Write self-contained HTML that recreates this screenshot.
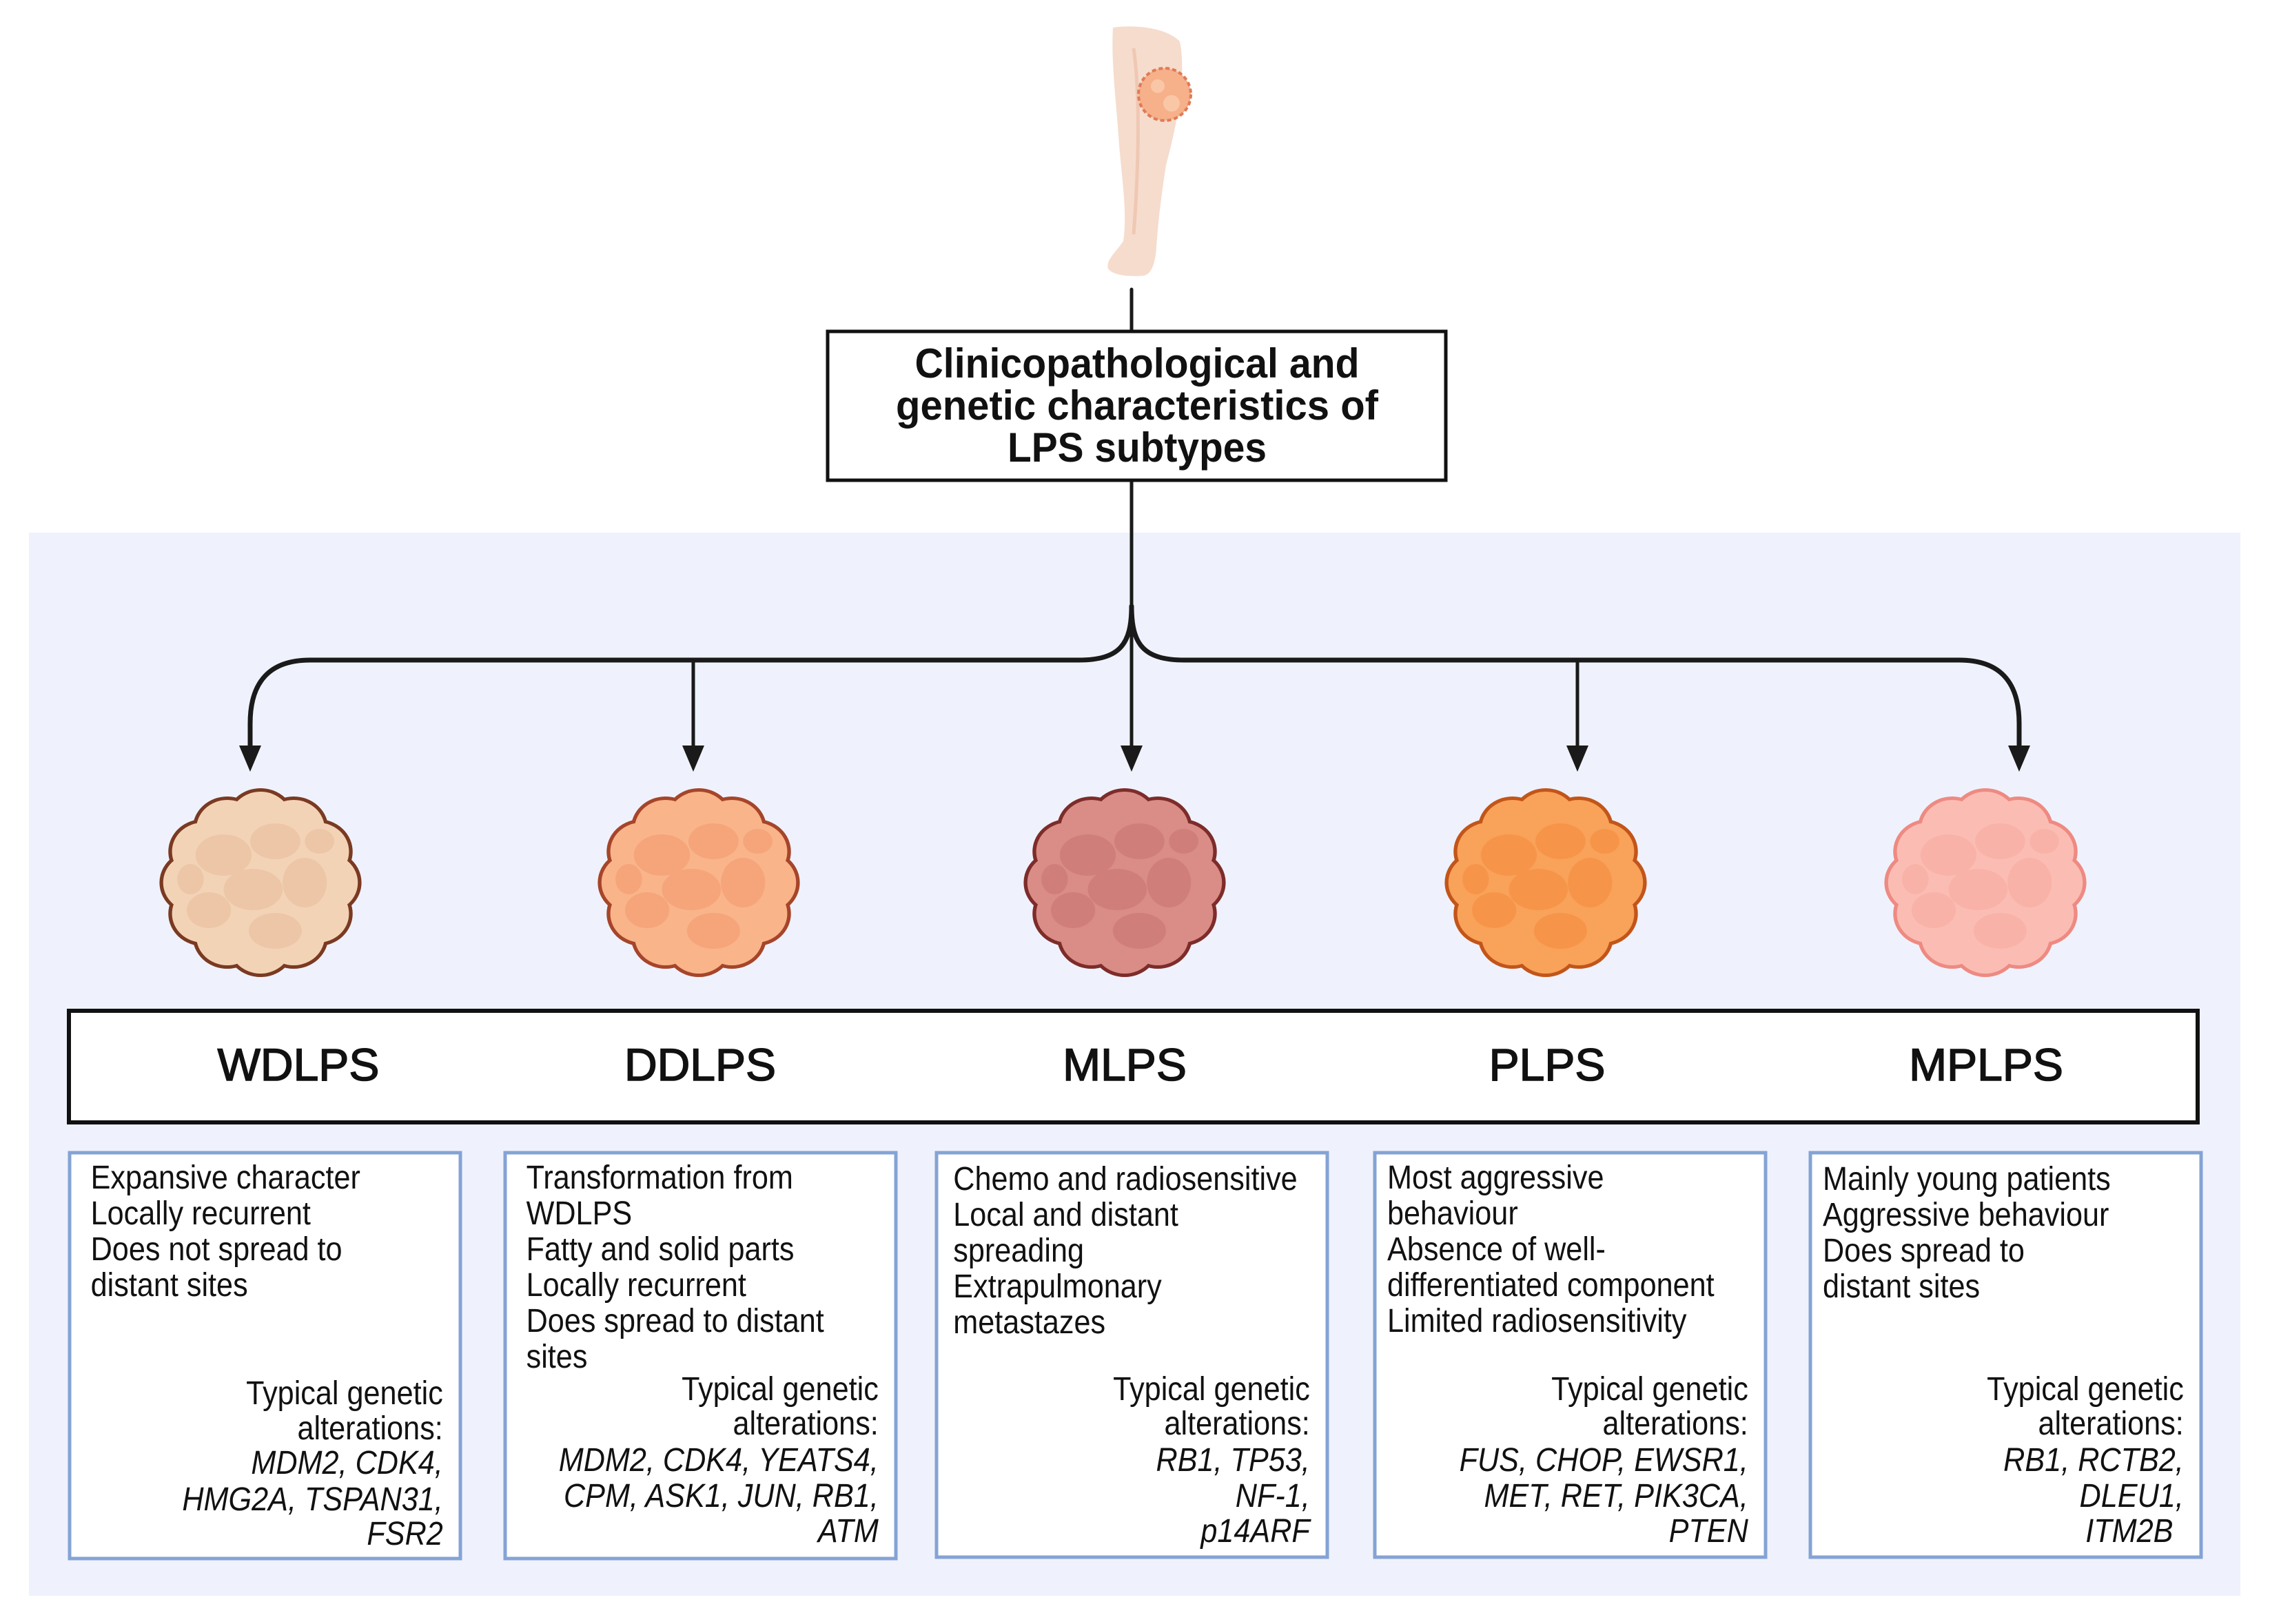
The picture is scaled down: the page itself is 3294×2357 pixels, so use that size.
<!DOCTYPE html>
<html><head><meta charset="utf-8"><style>html,body{margin:0;padding:0;background:#fff}svg{display:block}</style></head>
<body>
<svg width="3294" height="2357" viewBox="0 0 3294 2357" xmlns="http://www.w3.org/2000/svg" font-family="'Liberation Sans', sans-serif">
<defs>
<g id="b">
<circle cx="0" cy="0" r="108"/>
<circle cx="90" cy="0" r="42"/><circle cx="78" cy="45" r="42"/><circle cx="45" cy="78" r="42"/>
<circle cx="0" cy="90" r="42"/><circle cx="-45" cy="78" r="42"/><circle cx="-78" cy="45" r="42"/>
<circle cx="-90" cy="0" r="42"/><circle cx="-78" cy="-45" r="42"/><circle cx="-45" cy="-78" r="42"/>
<circle cx="0" cy="-90" r="42"/><circle cx="45" cy="-78" r="42"/><circle cx="78" cy="-45" r="42"/>
</g>
<g id="t">
<ellipse cx="-50" cy="-40" rx="38" ry="30"/><ellipse cx="20" cy="-60" rx="34" ry="26"/>
<ellipse cx="60" cy="0" rx="30" ry="36"/><ellipse cx="-10" cy="10" rx="40" ry="30"/>
<ellipse cx="-70" cy="40" rx="30" ry="26"/><ellipse cx="20" cy="70" rx="36" ry="26"/>
<ellipse cx="80" cy="-60" rx="20" ry="18"/><ellipse cx="-95" cy="-5" rx="18" ry="22"/>
</g>
</defs>
<rect x="42" y="773" width="3209" height="1543" fill="#eff2fc"/>

<!-- leg -->
<path d="M1615 40 C1640 36 1690 38 1712 60 C1722 110 1708 180 1692 240 C1684 290 1680 330 1678 360 C1676 385 1670 398 1660 400 C1640 402 1615 400 1608 390 C1604 378 1620 365 1630 350 C1636 310 1628 260 1624 210 C1620 150 1612 90 1615 40 Z" fill="#f6dccd"/>
<path d="M1645 70 C1655 140 1652 250 1645 340" stroke="#efc8b4" stroke-width="5" fill="none"/>
<circle cx="1690" cy="137" r="38" fill="#f6b08a" stroke="#e07a55" stroke-width="4" stroke-dasharray="6 4"/>
<circle cx="1680" cy="125" r="10" fill="#f9c7a6"/><circle cx="1700" cy="150" r="12" fill="#f9c7a6"/>

<!-- connectors -->
<g stroke="#1a1a1a" fill="none" stroke-linecap="round">
<line x1="1642" y1="420" x2="1642" y2="480" stroke-width="5"/>
<line x1="1642" y1="699" x2="1642" y2="1090" stroke-width="5"/>
<path d="M1642 880 C1642 935 1625 958 1565 958 H450 Q363 958 363 1050 V1090" stroke-width="7"/>
<path d="M1642 880 C1642 935 1659 958 1719 958 H2843 Q2930 958 2930 1050 V1090" stroke-width="7"/>
<line x1="1006" y1="962" x2="1006" y2="1090" stroke-width="5"/>
<line x1="2289" y1="962" x2="2289" y2="1090" stroke-width="5"/>
</g>
<g fill="#1a1a1a">
<polygon points="347,1082 379,1082 363,1120"/>
<polygon points="990,1082 1022,1082 1006,1120"/>
<polygon points="1626,1082 1658,1082 1642,1120"/>
<polygon points="2273,1082 2305,1082 2289,1120"/>
<polygon points="2914,1082 2946,1082 2930,1120"/>
</g>

<!-- title box -->
<rect x="1201" y="481" width="897" height="216" fill="#fff" stroke="#111" stroke-width="5"/>
<g font-weight="bold" font-size="60" text-anchor="middle" fill="#111">
<text x="1650" y="548" textLength="645" lengthAdjust="spacingAndGlyphs">Clinicopathological and</text>
<text x="1650" y="609" textLength="700" lengthAdjust="spacingAndGlyphs">genetic characteristics of</text>
<text x="1650" y="670" textLength="376" lengthAdjust="spacingAndGlyphs">LPS subtypes</text>
</g>

<!-- blobs -->
<g transform="translate(378,1281) scale(1.07,1)"><use href="#b" fill="#7a3a22" stroke="#7a3a22" stroke-width="10"/><use href="#b" fill="#f3d3b6"/><use href="#t" fill="#e8bf9c" opacity="0.6"/></g>
<g transform="translate(1014,1281) scale(1.07,1)"><use href="#b" fill="#a6452a" stroke="#a6452a" stroke-width="10"/><use href="#b" fill="#f9b48a"/><use href="#t" fill="#f2976a" opacity="0.5"/></g>
<g transform="translate(1632,1281) scale(1.07,1)"><use href="#b" fill="#7d2c2a" stroke="#7d2c2a" stroke-width="10"/><use href="#b" fill="#da8c87"/><use href="#t" fill="#c8716d" opacity="0.5"/></g>
<g transform="translate(2243,1281) scale(1.07,1)"><use href="#b" fill="#c2551a" stroke="#c2551a" stroke-width="10"/><use href="#b" fill="#f9a259"/><use href="#t" fill="#f58a3a" opacity="0.5"/></g>
<g transform="translate(2881,1281) scale(1.07,1)"><use href="#b" fill="#ee8a82" stroke="#ee8a82" stroke-width="10"/><use href="#b" fill="#fbbdb3"/><use href="#t" fill="#f7a89e" opacity="0.5"/></g>

<!-- names box -->
<rect x="100" y="1467" width="3089" height="162" fill="#fff" stroke="#111" stroke-width="6"/>
<g font-size="66" text-anchor="middle" fill="#111" stroke="#111" stroke-width="1.6">
<text x="433" y="1568">WDLPS</text>
<text x="1016" y="1568">DDLPS</text>
<text x="1632" y="1568">MLPS</text>
<text x="2245" y="1568">PLPS</text>
<text x="2882" y="1568">MPLPS</text>
</g>

<!-- small boxes -->
<g fill="#fff" stroke="#84a3d6" stroke-width="5">
<rect x="101" y="1673" width="567" height="589"/>
<rect x="733" y="1673" width="567" height="589"/>
<rect x="1359" y="1673" width="567" height="587"/>
<rect x="1995" y="1673" width="567" height="587"/>
<rect x="2627" y="1673" width="567" height="587"/>
</g>

<g font-size="48" fill="#111">
<g transform="translate(101,0) scale(0.9,1)">
<text x="34" y="1725">Expansive character</text>
<text x="34" y="1777">Locally recurrent</text>
<text x="34" y="1829">Does not spread to</text>
<text x="34" y="1881">distant sites</text>
<g text-anchor="end">
<text x="602" y="2038">Typical genetic</text>
<text x="602" y="2089">alterations:</text>
<text x="602" y="2139" font-style="italic">MDM2, CDK4,</text>
<text x="602" y="2192" font-style="italic">HMG2A, TSPAN31,</text>
<text x="602" y="2242" font-style="italic">FSR2</text>
</g></g>
<g transform="translate(733,0) scale(0.9,1)">
<text x="34" y="1725">Transformation from</text>
<text x="34" y="1777">WDLPS</text>
<text x="34" y="1829">Fatty and solid parts</text>
<text x="34" y="1881">Locally recurrent</text>
<text x="34" y="1933">Does spread to distant</text>
<text x="34" y="1985">sites</text>
<g text-anchor="end">
<text x="602" y="2032">Typical genetic</text>
<text x="602" y="2082">alterations:</text>
<text x="602" y="2135" font-style="italic">MDM2, CDK4, YEATS4,</text>
<text x="602" y="2187" font-style="italic">CPM, ASK1, JUN, RB1,</text>
<text x="602" y="2238" font-style="italic">ATM</text>
</g></g>
<g transform="translate(1359,0) scale(0.9,1)">
<text x="27" y="1727">Chemo and radiosensitive</text>
<text x="27" y="1779">Local and distant</text>
<text x="27" y="1831">spreading</text>
<text x="27" y="1883">Extrapulmonary</text>
<text x="27" y="1935">metastazes</text>
<g text-anchor="end">
<text x="602" y="2032">Typical genetic</text>
<text x="602" y="2082">alterations:</text>
<text x="602" y="2135" font-style="italic">RB1, TP53,</text>
<text x="602" y="2187" font-style="italic">NF-1,</text>
<text x="602" y="2238" font-style="italic">p14ARF</text>
</g></g>
<g transform="translate(1995,0) scale(0.9,1)">
<text x="20" y="1725">Most aggressive</text>
<text x="20" y="1777">behaviour</text>
<text x="20" y="1829">Absence of well-</text>
<text x="20" y="1881">differentiated component</text>
<text x="20" y="1933">Limited radiosensitivity</text>
<g text-anchor="end">
<text x="602" y="2032">Typical genetic</text>
<text x="602" y="2082">alterations:</text>
<text x="602" y="2135" font-style="italic">FUS, CHOP, EWSR1,</text>
<text x="602" y="2187" font-style="italic">MET, RET, PIK3CA,</text>
<text x="602" y="2238" font-style="italic">PTEN</text>
</g></g>
<g transform="translate(2627,0) scale(0.9,1)">
<text x="20" y="1727">Mainly young patients</text>
<text x="20" y="1779">Aggressive behaviour</text>
<text x="20" y="1831">Does spread to</text>
<text x="20" y="1883">distant sites</text>
<g text-anchor="end">
<text x="602" y="2032">Typical genetic</text>
<text x="602" y="2082">alterations:</text>
<text x="602" y="2135" font-style="italic">RB1, RCTB2,</text>
<text x="602" y="2187" font-style="italic">DLEU1,</text>
<text x="585" y="2238" font-style="italic">ITM2B</text>
</g></g>
</g>
</svg>
</body></html>
